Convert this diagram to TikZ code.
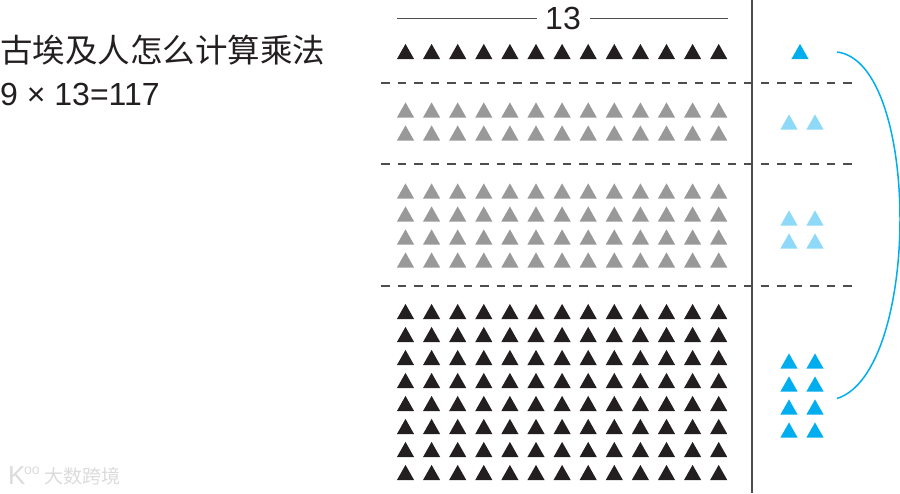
\documentclass[tikz,border=0pt]{standalone}
\usepackage{fontspec}
\setmainfont{Liberation Sans}
\newfontfamily\cjk{Noto Sans CJK SC}
\usepackage{xcolor}
\usetikzlibrary{positioning}
\definecolor{tridark}{HTML}{231F20}
\definecolor{trigray}{HTML}{999999}
\definecolor{triblue}{HTML}{00AEEF}
\definecolor{trilight}{HTML}{8ED8F8}
\definecolor{rulegray}{HTML}{4D4D4D}
\begin{document}
\begin{tikzpicture}[x=1pt,y=-1pt,
tri/.pic={\path[pic actions] (-8.6,7.6)--(8.6,7.6)--(0,-7.6)--cycle;},
title/.style={anchor=base west,inner sep=0pt,text=tridark},
dashrule/.style={draw=rulegray,line width=1.4pt,dash pattern=on 8.7pt off 7.8pt}]
\useasboundingbox (0,0) rectangle (900,493);
\node[title,font=\cjk\fontsize{32.5}{32.5}\selectfont] (head) at (0,62) {古埃及人怎么计算乘法};
\node[title,font=\fontsize{32}{32}\selectfont] (calc) at (0,105.5) {9 × 13=117};
\node[inner sep=8.5pt,text=tridark,font=\fontsize{32}{32}\selectfont] (len) at (563,18.5) {13};
\coordinate (lenl) at (397,18.5);
\coordinate (lenr) at (728,18.5);
\draw[rulegray,line width=1.5pt] (lenl)--(len.west |- lenl);
\draw[rulegray,line width=1.5pt] (len.east |- lenr)--(lenr);
\foreach \y in {83,164,286} \draw[dashrule] (381,\y)--(852,\y);
\coordinate (sept) at (752,0);
\coordinate (sepb) at (752,493);
\draw[rulegray,line width=1.8pt] (sept)--(sepb);
\foreach \y in {51.5,311.5,334.5,357.5,380.5,403.5,426.5,449.5,472.5}
  \foreach \i in {0,...,12}
    \pic[fill=tridark] at ({405.5+26.1*\i},\y) {tri};
\foreach \y in {110,133,191,214,237,260}
  \foreach \i in {0,...,12}
    \pic[fill=trigray] at ({405.5+26.1*\i},\y) {tri};
\pic[fill=triblue] at (800,51.5) {tri};
\foreach \y in {122,218,241}
  \foreach \x in {789,815}
    \pic[fill=trilight] at (\x,\y) {tri};
\foreach \y in {361,384,407,430}
  \foreach \x in {789,815}
    \pic[fill=triblue] at (\x,\y) {tri};
\coordinate (arca) at (837,52);
\coordinate (arcb) at (837,398.5);
\draw[triblue,line width=1.5pt] (arca) .. controls (921,62) and (921,372) .. (arcb);
\node[inner sep=0pt,anchor=base west,text=black!14,font=\fontsize{26}{26}\selectfont] (logo) at (8,484) {K};
\node[inner sep=0pt,anchor=base west,text=black!14,font=\fontsize{14}{14}\selectfont] (logob) at (24,474) {oo};
\node[inner sep=0pt,anchor=base west,text=black!14,font=\cjk\fontsize{19}{19}\selectfont] (mark) at (44,483) {大数跨境};
\end{tikzpicture}
\end{document}
